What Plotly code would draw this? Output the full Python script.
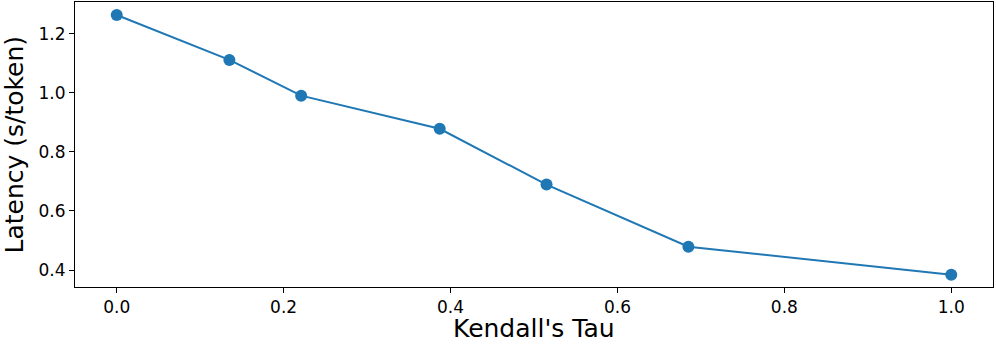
import plotly.graph_objects as go

kendall_tau = [0.0, 0.135, 0.221, 0.387, 0.515, 0.685, 1.0]
latency = [1.263, 1.111, 0.990, 0.878, 0.689, 0.479, 0.384]

fig = go.Figure()
fig.add_trace(go.Scatter(
    x=kendall_tau,
    y=latency,
    mode="lines+markers",
    line=dict(color="#1f77b4", width=2),
    marker=dict(color="#1f77b4", size=12),
    showlegend=False,
))

axis_style = dict(
    showline=True, linecolor="black", linewidth=1, mirror=True,
    ticks="outside", ticklen=5, tickwidth=1, tickcolor="black",
    showgrid=False, zeroline=False, automargin=False,
    tickfont=dict(family="DejaVu Sans", size=17, color="black"),
)

fig.update_xaxes(
    range=[-0.05, 1.05], tickvals=[0.0, 0.2, 0.4, 0.6, 0.8, 1.0],
    ticktext=["0.0", "0.2", "0.4", "0.6", "0.8", "1.0"],
    **axis_style,
)
fig.update_yaxes(
    range=[0.3425, 1.307], tickvals=[0.4, 0.6, 0.8, 1.0, 1.2],
    ticktext=["0.4", "0.6", "0.8", "1.0", "1.2"],
    **axis_style,
)

# axis titles as annotations so they sit where the reference has them
fig.add_annotation(
    text="Kendall's Tau", xref="paper", yref="paper", x=0.5005, y=-0.2035,
    xanchor="center", yanchor="bottom", showarrow=False,
    font=dict(family="DejaVu Sans", size=25, color="black"),
)
fig.add_annotation(
    text="Latency (s/token)", xref="paper", yref="paper", x=-0.0664, y=0.5,
    xanchor="center", yanchor="middle", textangle=-90, showarrow=False,
    font=dict(family="DejaVu Sans", size=25, color="black"),
)

fig.update_layout(
    width=996, height=345,
    margin=dict(l=75, r=3, t=2, b=58),
    plot_bgcolor="white", paper_bgcolor="white",
)

# drop the browser's default body margin so the figure fills the window
fig.write_html("out.html", config={"displayModeBar": False},
               post_script="document.body.style.margin='0';")
